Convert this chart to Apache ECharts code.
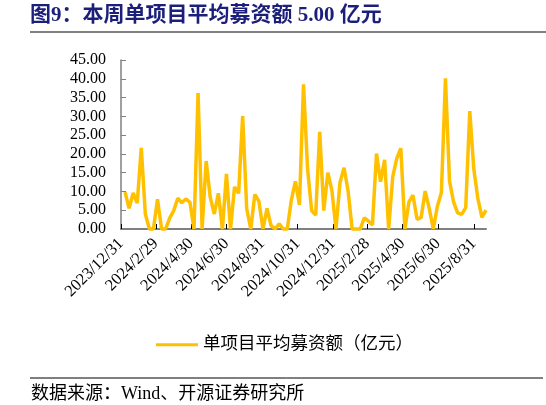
<!DOCTYPE html>
<html>
<head>
<meta charset="utf-8">
<script src="https://cdn.jsdelivr.net/npm/echarts@6/dist/echarts.min.js"></script>
<style>
  html, body { margin: 0; padding: 0; background: #fff; }
  #chart { width: 546px; height: 405px; }
</style>
</head>
<body>
<div id="chart"></div>
<script>
// weekly dates (Sundays)
var weekDates = [
  '2024/1/7','2024/1/14','2024/1/21','2024/1/28','2024/2/4','2024/2/11','2024/2/18','2024/2/25',
  '2024/3/3','2024/3/10','2024/3/17','2024/3/24','2024/3/31','2024/4/7','2024/4/14','2024/4/21','2024/4/28',
  '2024/5/5','2024/5/12','2024/5/19','2024/5/26','2024/6/2','2024/6/9','2024/6/16','2024/6/23','2024/6/30',
  '2024/7/7','2024/7/14','2024/7/21','2024/7/28','2024/8/4','2024/8/11','2024/8/18','2024/8/25',
  '2024/9/1','2024/9/8','2024/9/15','2024/9/22','2024/9/29','2024/10/6','2024/10/13','2024/10/20','2024/10/27',
  '2024/11/3','2024/11/10','2024/11/17','2024/11/24','2024/12/1','2024/12/8','2024/12/15','2024/12/22','2024/12/29',
  '2025/1/5','2025/1/12','2025/1/19','2025/1/26','2025/2/2','2025/2/9','2025/2/16','2025/2/23',
  '2025/3/2','2025/3/9','2025/3/16','2025/3/23','2025/3/30','2025/4/6','2025/4/13','2025/4/20','2025/4/27',
  '2025/5/4','2025/5/11','2025/5/18','2025/5/25','2025/6/1','2025/6/8','2025/6/15','2025/6/22','2025/6/29',
  '2025/7/6','2025/7/13','2025/7/20','2025/7/27','2025/8/3','2025/8/10','2025/8/17','2025/8/24','2025/8/31',
  '2025/9/7','2025/9/14','2025/9/21'
];

// 单项目平均募资额（亿元）
var avgRaise = [
  9.8, 5.5, 9.6, 6.9, 21.6, 4.0, 0, 0, 7.9, 0, 0, 2.9, 4.9, 8.2, 7.0, 8.0, 7.1, 0, 36.2, 0,
  18.1, 8.5, 4.0, 9.5, 0, 14.7, 0, 11.2, 9.5, 30.1, 5.4, 0, 9.2, 7.4, 0, 5.5, 0.9, 0, 1.4, 0,
  0, 7.7, 12.7, 6.4, 38.5, 16.1, 4.9, 3.7, 25.9, 4.9, 15.0, 10.3, 0, 12.4, 16.3, 10.1, 0, 0, 0, 3.0,
  2.1, 1.1, 20.1, 12.6, 18.4, 0, 13.9, 18.8, 21.5, 0, 7.2, 9.0, 2.6, 3.0, 10.1, 5.5, 0, 6.0, 9.7, 40.1,
  12.8, 7.2, 4.3, 3.9, 5.7, 31.4, 15.9, 8.1, 3.1, 5.0
];

var tickDates = ['2023/12/31','2024/2/29','2024/4/30','2024/6/30','2024/8/31','2024/10/31',
  '2024/12/31','2025/2/28','2025/4/30','2025/6/30','2025/8/31'];

var baseDate = '2023/12/31';
var endDate = '2025/9/21';

function dayNum(s) {
  var p = s.split('/');
  return Date.UTC(+p[0], +p[1] - 1, +p[2]) / 86400000;
}
var base = dayNum(baseDate);
function offset(s) { return dayNum(s) - base; }

var seriesData = weekDates.map(function (d, i) { return [offset(d), avgRaise[i]]; });
var tickValues = tickDates.map(offset);
var labelByDay = {};
tickDates.forEach(function (d) { labelByDay[offset(d)] = d; });

var serif = '"Liberation Serif", "Times New Roman", serif';
var cjk = '"Liberation Serif", "Noto Sans CJK SC", serif';

var myChart = echarts.init(document.getElementById('chart'));
var option = {
  backgroundColor: '#fff',
  animation: false,
  grid: { left: 121, right: 60, top: 60, bottom: 176, containLabel: false },
  legend: {
    data: ['单项目平均募资额（亿元）'],
    left: 151,
    top: 331,
    icon: 'rect',
    itemWidth: 42,
    itemHeight: 3,
    itemGap: 6,
    textStyle: { fontFamily: cjk, fontSize: 17.5, color: '#000' }
  },
  xAxis: {
    type: 'value',
    min: 0,
    max: offset(endDate),
    splitLine: { show: false },
    axisLine: { show: true, lineStyle: { color: '#808080', width: 2 } },
    axisTick: { show: true, inside: true, length: 5, customValues: tickValues, lineStyle: { color: '#000', width: 1 } },
    axisLabel: {
      customValues: tickValues,
      rotate: 45,
      margin: 12,
      fontFamily: serif,
      fontSize: 16.5,
      color: '#000',
      formatter: function (v) { return labelByDay[v] || ''; }
    }
  },
  yAxis: {
    type: 'value',
    min: 0,
    max: 45,
    interval: 5,
    splitLine: { show: false },
    axisLine: { show: true, lineStyle: { color: '#808080', width: 1.5 } },
    axisTick: { show: true, inside: true, length: 5, lineStyle: { color: '#808080' } },
    axisLabel: {
      margin: 15,
      fontFamily: serif,
      fontSize: 16,
      color: '#000',
      formatter: function (v) { return v.toFixed(2); }
    }
  },
  series: [{
    name: '单项目平均募资额（亿元）',
    type: 'line',
    data: seriesData,
    showSymbol: false,
    symbol: 'none',
    lineStyle: { color: '#FFC000', width: 3.5 },
    itemStyle: { color: '#FFC000' },
    clip: false
  }],
  graphic: [
    {
      type: 'text', left: 30, top: 5,
      style: { text: '图9：本周单项目平均募资额 5.00 亿元', fill: '#1c1f7a', font: 'bold 21px ' + cjk }
    },
    {
      type: 'line', shape: { x1: 30, y1: 32, x2: 546, y2: 32 },
      style: { stroke: '#808080', lineWidth: 2 }
    },
    {
      type: 'line', shape: { x1: 30, y1: 378, x2: 543, y2: 378 },
      style: { stroke: '#000', lineWidth: 1 }
    },
    {
      type: 'text', left: 31, top: 385,
      style: { text: '数据来源：Wind、开源证券研究所', fill: '#000', font: '18px ' + cjk }
    }
  ]
};
myChart.setOption(option, true);
window.addEventListener('resize', function () { myChart.resize(); });
</script>
</body>
</html>
